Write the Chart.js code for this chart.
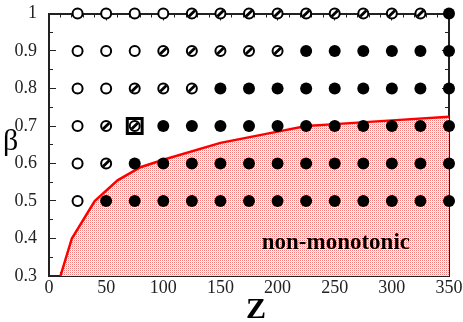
<!DOCTYPE html>
<html>
<head>
<meta charset="utf-8">
<script src="https://cdn.jsdelivr.net/npm/chart.js@4"></script>
<style>
  html, body { margin: 0; padding: 0; background: #fff; }
  #wrap { width: 463px; height: 322px; }
</style>
</head>
<body>
<div id="wrap"><canvas id="myChart"></canvas></div>
<script>
// grid of simulations
const zValues = [25, 50, 75, 100, 125, 150, 175, 200, 225, 250, 275, 300, 325, 350];
const betaValues = [0.5, 0.6, 0.7, 0.8, 0.9, 1.0];
// 0 = open, 1 = hatched, 2 = filled (one row per beta)
const state050 = [0, 2, 2, 2, 2, 2, 2, 2, 2, 2, 2, 2, 2, 2];
const state060 = [0, 1, 2, 2, 2, 2, 2, 2, 2, 2, 2, 2, 2, 2];
const state070 = [0, 1, 1, 2, 2, 2, 2, 2, 2, 2, 2, 2, 2, 2];
const state080 = [0, 0, 1, 1, 1, 2, 2, 2, 2, 2, 2, 2, 2, 2];
const state090 = [0, 0, 0, 1, 1, 1, 1, 1, 2, 2, 2, 2, 2, 2];
const state100 = [0, 0, 0, 0, 1, 1, 1, 1, 1, 1, 1, 1, 1, 2];
const states = [state050, state060, state070, state080, state090, state100];

// boundary of the non-monotonic region
const boundaryZ = [10, 20, 40, 60, 80, 100, 150, 200, 225, 250, 300, 350];
const boundaryBeta = [0.3, 0.4, 0.5, 0.555, 0.59, 0.61, 0.655, 0.685, 0.70, 0.705, 0.715, 0.725];

// highlighted run
const markedZ = [75];
const markedBeta = [0.7];

const xTicks = [0, 50, 100, 150, 200, 250, 300, 350];
const xMinor = [10, 20, 30, 40, 60, 70, 80, 90, 110, 120, 130, 140, 160, 170, 180, 190,
                210, 220, 230, 240, 260, 270, 280, 290, 310, 320, 330, 340];
const yTicks = [0.3, 0.4, 0.5, 0.6, 0.7, 0.8, 0.9, 1];
const yMinor = [0.35, 0.45, 0.55, 0.65, 0.75, 0.85, 0.95];

function dots(kinds) {
  let pts = [];
  states.forEach((row, i) => {
    row.forEach((s, j) => {
      if (kinds.includes(s)) pts.push({x: zValues[j], y: betaValues[i]});
    });
  });
  return pts;
}

// dotted pink fill
const pc = document.createElement("canvas");
pc.width = 2; pc.height = 2;
const pg = pc.getContext("2d");
pg.fillStyle = "#fff";
pg.fillRect(0, 0, 2, 2);
pg.fillStyle = "#f47a7a";
pg.fillRect(0, 0, 1, 1);
pg.fillStyle = "#ffd6d6";
pg.fillRect(1, 1, 1, 1);
const ctx = document.getElementById("myChart");
const pattern = ctx.getContext("2d").createPattern(pc, "repeat");

const labels = {
  id: "labels",
  afterDraw(chart) {
    const c = chart.ctx;
    const xs = chart.scales.x, ys = chart.scales.y;
    c.save();
    c.fillStyle = "#000";
    c.font = "bold 23px 'Liberation Serif'";
    c.textAlign = "center";
    c.textBaseline = "middle";
    c.fillText("non-monotonic", xs.getPixelForValue(251), ys.getPixelForValue(0.387));
    c.font = "30px 'Liberation Serif'";
    c.textAlign = "left";
    c.textBaseline = "alphabetic";
    c.fillText("β", 3, 150);
    c.font = "bold 30px 'Liberation Serif'";
    c.textAlign = "center";
    c.fillText("Z", 256, 318);
    c.restore();
  }
};

// extra axes that only carry the inward tick marks of the box
function tickAxis(axis, position, values, len, withBorder, weight) {
  const min = axis === "x" ? 0 : 0.3;
  const max = axis === "x" ? 350 : 1;
  return {
    type: "linear",
    axis: axis,
    position: position,
    weight: weight,
    min: min,
    max: max,
    afterFit: (s) => {
      if (axis === "x") s.height = 0; else s.width = 0;
      s.paddingLeft = 0; s.paddingRight = 0; s.paddingTop = 0; s.paddingBottom = 0;
    },
    afterBuildTicks: (s) => { s.ticks = values.map(v => ({value: v})); },
    grid: { display: true, drawOnChartArea: false, drawTicks: true, tickLength: -len, color: "#222", lineWidth: 1 },
    border: { display: withBorder, color: "#222", width: 2 },
    ticks: { display: false }
  };
}

const config = {
  type: "scatter",
  data: {
    datasets: [
      {
        label: "boundary",
        type: "line",
        data: boundaryZ.map((z, i) => ({x: z, y: boundaryBeta[i]})),
        borderColor: "#ff0000",
        borderWidth: 2.5,
        backgroundColor: pattern,
        fill: "start",
        pointRadius: 0,
        tension: 0,
        xAxisID: "x",
        yAxisID: "y",
        order: 10
      },
      {
        label: "open",
        data: dots([0, 1]),
        pointStyle: "circle",
        pointRadius: 5,
        borderWidth: 2,
        borderColor: "#000",
        backgroundColor: "#fff",
        clip: false,
        xAxisID: "x",
        yAxisID: "y",
        order: 3
      },
      {
        label: "hatched",
        data: dots([1]),
        pointStyle: "line",
        rotation: -45,
        pointRadius: 4.4,
        borderWidth: 2.8,
        borderColor: "#000",
        clip: false,
        xAxisID: "x",
        yAxisID: "y",
        order: 2
      },
      {
        label: "filled",
        data: dots([2]),
        pointStyle: "circle",
        pointRadius: 6,
        borderWidth: 0,
        backgroundColor: "#000",
        clip: false,
        xAxisID: "x",
        yAxisID: "y",
        order: 2
      },
      {
        label: "marked",
        data: markedZ.map((z, i) => ({x: z, y: markedBeta[i]})),
        pointStyle: "rect",
        pointRadius: 10.5,
        borderColor: "#000",
        borderWidth: 3,
        backgroundColor: "rgba(0,0,0,0)",
        xAxisID: "x",
        yAxisID: "y",
        order: 0
      }
    ]
  },
  options: {
    responsive: true,
    maintainAspectRatio: false,
    animation: false,
    events: [],
    layout: { padding: { top: 8, right: 14, left: 0, bottom: 0 } },
    plugins: { legend: { display: false }, tooltip: { enabled: false } },
    scales: {
      x: {
        type: "linear",
        axis: "x",
        position: "bottom",
        weight: 0,
        min: 0,
        max: 350,
        afterFit: (s) => { s.height = 46; },
        afterBuildTicks: (s) => { s.ticks = xTicks.map(v => ({value: v})); },
        grid: { display: true, drawOnChartArea: false, drawTicks: true, tickLength: -7, color: "#222", lineWidth: 1 },
        border: { display: true, color: "#222", width: 2 },
        ticks: {
          autoSkip: false,
          maxRotation: 0,
          padding: 0,
          color: "#222",
          font: { family: "'Liberation Serif'", size: 18, lineHeight: 2.1 },
          callback: (v) => String(v)
        }
      },
      y: {
        type: "linear",
        axis: "y",
        position: "left",
        weight: 0,
        min: 0.3,
        max: 1,
        afterFit: (s) => { s.width = 49; },
        afterBuildTicks: (s) => { s.ticks = yTicks.map(v => ({value: v})); },
        grid: { display: false },
        border: { display: true, color: "#222", width: 2 },
        ticks: {
          autoSkip: false,
          padding: 4,
          color: "#222",
          font: { family: "'Liberation Serif'", size: 18, lineHeight: 0.1 },
          callback: (v) => String(Number(v.toFixed(2)))
        }
      },
      xMinorBottom: tickAxis("x", "bottom", xMinor, 4, false, -1),
      xTop: tickAxis("x", "top", xTicks, 7, true, 0),
      xMinorTop: tickAxis("x", "top", xMinor, 4, false, -1),
      yMajorLeft: tickAxis("y", "left", yTicks, 7, false, -1),
      yMinorLeft: tickAxis("y", "left", yMinor, 4, false, -2),
      yRight: tickAxis("y", "right", yTicks, 7, true, 0),
      yMinorRight: tickAxis("y", "right", yMinor, 4, false, -1)
    }
  },
  plugins: [labels]
};

let myChart = new Chart(ctx, config);
</script>
</body>
</html>
